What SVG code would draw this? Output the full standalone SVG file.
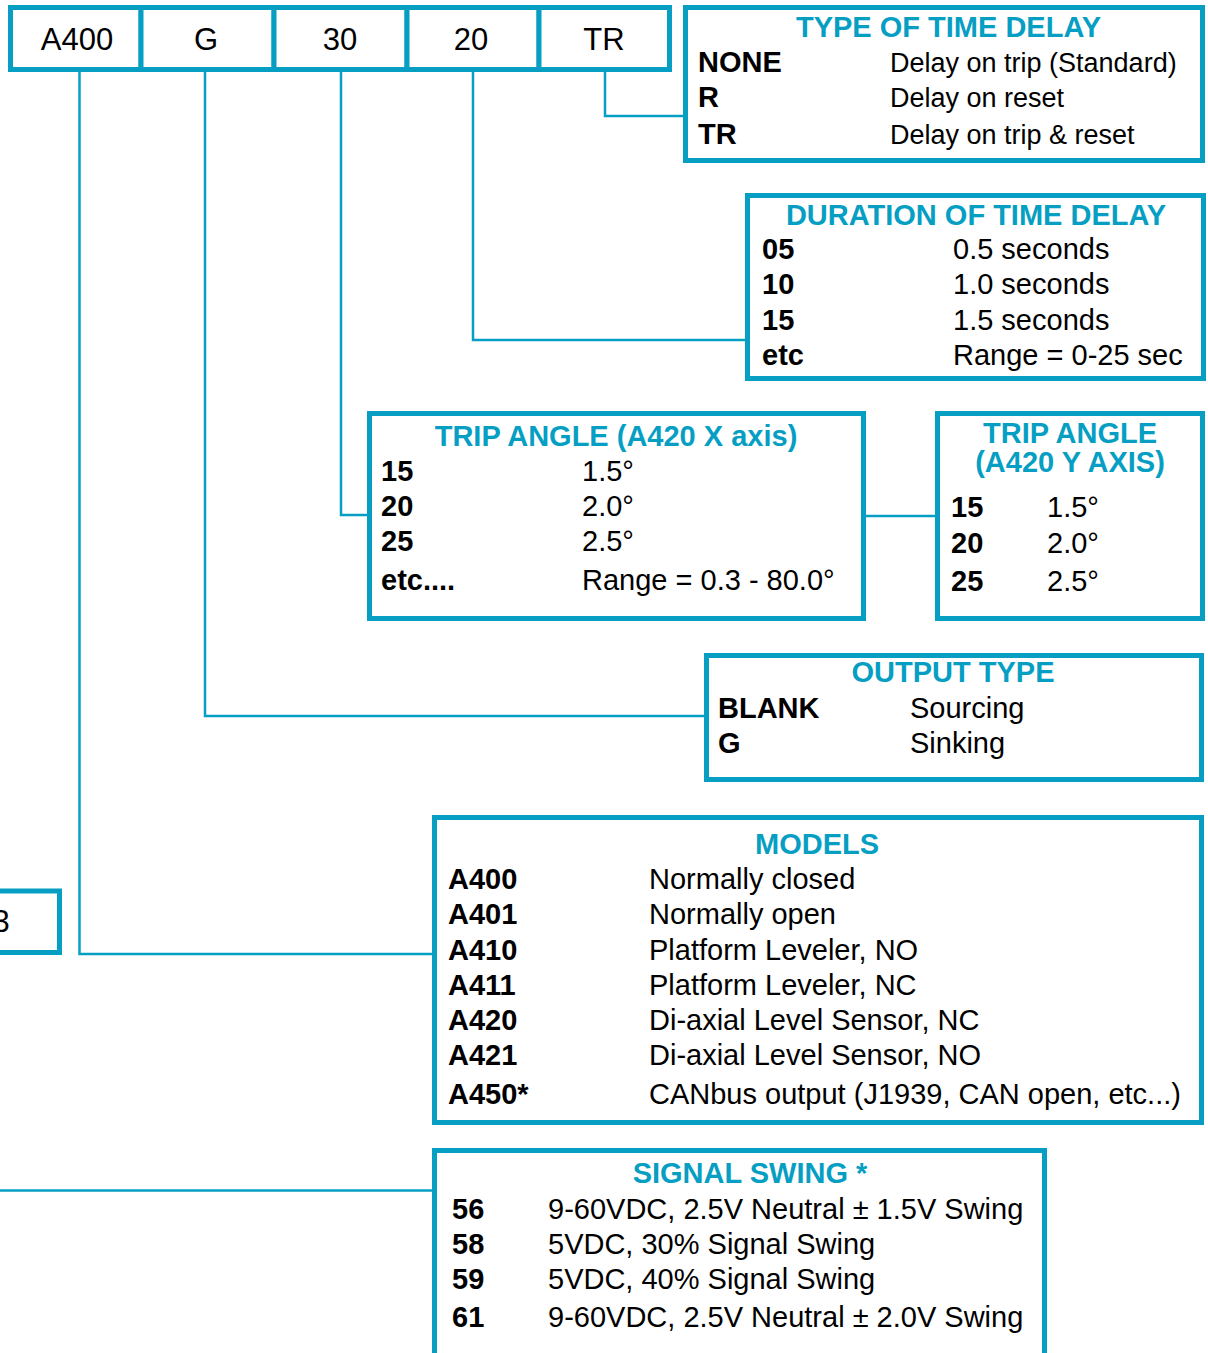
<svg xmlns="http://www.w3.org/2000/svg" width="1208" height="1353" viewBox="0 0 1208 1353">
<style>
.box{fill:#fff;stroke:#069fc3;stroke-width:5}
.ln{fill:none;stroke:#069fc3;stroke-width:2.5}
text{font-family:"Liberation Sans",Arial,sans-serif;fill:#000}
.cell{font-size:31px;text-anchor:middle}
.t{font-size:29px;font-weight:bold;fill:#069fc3;text-anchor:middle}
.b{font-size:29px;font-weight:bold}
.r{font-size:29px}
.rs{font-size:27px}
</style>
<rect width="1208" height="1353" fill="#fff"/>
<g id="connectors">
<polyline class="ln" points="605,71 605,116 683,116"/>
<polyline class="ln" points="473,71 473,340 747,340"/>
<polyline class="ln" points="341,71 341,515 368,515"/>
<polyline class="ln" points="205,71 205,716 704,716"/>
<polyline class="ln" points="79.5,71 79.5,954 433,954"/>
<line class="ln" x1="866" y1="516" x2="935" y2="516"/>
<line class="ln" x1="0" y1="1190.5" x2="433" y2="1190.5"/>
</g>
<g id="cell-a400"><rect class="box" x="10.5" y="7.5" width="130.5" height="62"/><text class="cell" x="77" y="50">A400</text></g>
<g id="cell-g"><rect class="box" x="141" y="7.5" width="133" height="62"/><text class="cell" x="206" y="50">G</text></g>
<g id="cell-30"><rect class="box" x="274" y="7.5" width="133" height="62"/><text class="cell" x="340" y="50">30</text></g>
<g id="cell-20"><rect class="box" x="407" y="7.5" width="132" height="62"/><text class="cell" x="471" y="50">20</text></g>
<g id="cell-tr"><rect class="box" x="539" y="7.5" width="130.5" height="62"/><text class="cell" x="604" y="50">TR</text></g>
<g id="type-delay">
<rect class="box" x="685.5" y="7.5" width="517" height="153"/>
<text class="t" x="948.5" y="37">TYPE OF TIME DELAY</text>
<text class="b" x="698" y="72">NONE</text><text class="rs" x="890" y="72">Delay on trip (Standard)</text>
<text class="b" x="698" y="107">R</text><text class="rs" x="890" y="107">Delay on reset</text>
<text class="b" x="698" y="144">TR</text><text class="rs" x="890" y="144">Delay on trip &amp; reset</text>
</g>
<g id="duration">
<rect class="box" x="747.5" y="195.5" width="456" height="183"/>
<text class="t" x="976" y="225">DURATION OF TIME DELAY</text>
<text class="b" x="762" y="259">05</text><text class="r" x="953" y="259">0.5 seconds</text>
<text class="b" x="762" y="294">10</text><text class="r" x="953" y="294">1.0 seconds</text>
<text class="b" x="762" y="330">15</text><text class="r" x="953" y="330">1.5 seconds</text>
<text class="b" x="762" y="365">etc</text><text class="r" x="953" y="365">Range = 0-25 sec</text>
</g>
<g id="trip-x">
<rect class="box" x="369.5" y="413.5" width="494" height="205"/>
<text class="t" x="616" y="446">TRIP ANGLE (A420 X axis)</text>
<text class="b" x="381" y="481">15</text><text class="r" x="582" y="481">1.5°</text>
<text class="b" x="381" y="516">20</text><text class="r" x="582" y="516">2.0°</text>
<text class="b" x="381" y="551">25</text><text class="r" x="582" y="551">2.5°</text>
<text class="b" x="381" y="590">etc....</text><text class="r" x="582" y="590">Range = 0.3 - 80.0°</text>
</g>
<g id="trip-y">
<rect class="box" x="937.5" y="413.5" width="265" height="205"/>
<text class="t" x="1070" y="443">TRIP ANGLE</text>
<text class="t" x="1070" y="472">(A420 Y AXIS)</text>
<text class="b" x="951" y="517">15</text><text class="r" x="1047" y="517">1.5°</text>
<text class="b" x="951" y="553">20</text><text class="r" x="1047" y="553">2.0°</text>
<text class="b" x="951" y="591">25</text><text class="r" x="1047" y="591">2.5°</text>
</g>
<g id="output-type">
<rect class="box" x="706.5" y="655.5" width="495" height="124"/>
<text class="t" x="953" y="682">OUTPUT TYPE</text>
<text class="b" x="718" y="718">BLANK</text><text class="r" x="910" y="718">Sourcing</text>
<text class="b" x="718" y="753">G</text><text class="r" x="910" y="753">Sinking</text>
</g>
<g id="left-box">
<rect class="box" x="-20" y="891" width="79.5" height="61.5"/>
<text class="cell" x="1" y="932">3</text>
</g>
<g id="models">
<rect class="box" x="434.5" y="817.5" width="767" height="305"/>
<text class="t" x="817" y="854">MODELS</text>
<text class="b" x="448" y="889">A400</text><text class="r" x="649" y="889">Normally closed</text>
<text class="b" x="448" y="924">A401</text><text class="r" x="649" y="924">Normally open</text>
<text class="b" x="448" y="960">A410</text><text class="r" x="649" y="960">Platform Leveler, NO</text>
<text class="b" x="448" y="995">A411</text><text class="r" x="649" y="995">Platform Leveler, NC</text>
<text class="b" x="448" y="1030">A420</text><text class="r" x="649" y="1030">Di-axial Level Sensor, NC</text>
<text class="b" x="448" y="1065">A421</text><text class="r" x="649" y="1065">Di-axial Level Sensor, NO</text>
<text class="b" x="448" y="1104">A450*</text><text class="r" x="649" y="1104">CANbus output (J1939, CAN open, etc...)</text>
</g>
<g id="signal-swing">
<rect class="box" x="434.5" y="1150.5" width="610" height="260"/>
<text class="t" x="750" y="1183">SIGNAL SWING *</text>
<text class="b" x="452" y="1219">56</text><text class="r" x="548" y="1219">9-60VDC, 2.5V Neutral ± 1.5V Swing</text>
<text class="b" x="452" y="1254">58</text><text class="r" x="548" y="1254">5VDC, 30% Signal Swing</text>
<text class="b" x="452" y="1289">59</text><text class="r" x="548" y="1289">5VDC, 40% Signal Swing</text>
<text class="b" x="452" y="1327">61</text><text class="r" x="548" y="1327">9-60VDC, 2.5V Neutral ± 2.0V Swing</text>
</g>
</svg>
